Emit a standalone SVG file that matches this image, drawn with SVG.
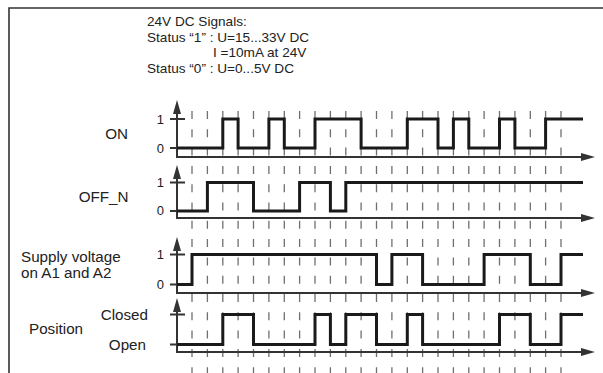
<svg xmlns="http://www.w3.org/2000/svg" width="603" height="373" viewBox="0 0 603 373">
  <defs>
    <style>
      .txt { font-family: "Liberation Sans", Arial, sans-serif; fill: #222; }
      .top { font-size: 13.6px; }
      .lbl { font-size: 15.2px; }
      .dig { font-size: 13px; text-anchor: end; }
      .grid { stroke: #6f6f6f; stroke-width: 1.3; stroke-dasharray: 8 10.3; fill: none; }
      .axis { stroke: #333; stroke-width: 2; fill: none; }
      .wave { stroke: #1a1a1a; stroke-width: 3; fill: none; stroke-linejoin: miter; }
    </style>
    <marker id="arr" markerUnits="userSpaceOnUse" markerWidth="14" markerHeight="8" refX="1" refY="4" orient="auto">
      <path d="M0,0 L14,4 L0,8 Z" fill="#333"/>
    </marker>
  </defs>
  <rect width="603" height="373" fill="#fff"/>
  <path d="M9,373 V8 H603" fill="none" stroke="#333" stroke-width="1.6"/>

  <g id="title" class="txt top">
    <text x="147" y="26">24V DC Signals:</text>
    <text x="147" y="41.6">Status “1” : U=15...33V DC</text>
    <text x="213" y="57.2">I =10mA at 24V</text>
    <text x="147" y="72.8">Status “0” : U=0...5V DC</text>
  </g>

  <g id="grid" class="grid">
    <path d="M192,111V373 M207.4,111V373 M222.8,111V373 M238.1,111V373 M253.5,111V373 M268.9,111V373 M284.3,111V373 M299.6,111V373 M315,111V373 M330.4,111V373 M345.8,111V373 M361.1,111V373 M376.5,111V373 M391.9,111V373 M407.3,111V373 M422.6,111V373 M438,111V373 M453.4,111V373 M468.8,111V373 M484.1,111V373 M499.5,111V373 M514.9,111V373 M530.3,111V373 M545.6,111V373 M561,111V373"/>
  </g>

  <g id="connectors">
    <g id="axes" class="axis">
      <path d="M177,157 V113" marker-end="url(#arr)"/>
      <path d="M176,157 H582" marker-end="url(#arr)"/>
      <path d="M170,119 H185 M170,148 H177"/>
      <path d="M177,218 V178" marker-end="url(#arr)"/>
      <path d="M176,218 H582" marker-end="url(#arr)"/>
      <path d="M170,182.5 H185 M170,211 H177"/>
      <path d="M177,293 V250" marker-end="url(#arr)"/>
      <path d="M176,293 H582" marker-end="url(#arr)"/>
      <path d="M170,254.5 H185 M170,284.5 H177"/>
      <path d="M177,352 V311" marker-end="url(#arr)"/>
      <path d="M176,352 H582" marker-end="url(#arr)"/>
      <path d="M170,314.5 H185 M170,344.5 H177"/>
    </g>
  </g>

  <g id="signal-on">
    <text class="txt lbl" x="128" y="139.3" text-anchor="end">ON</text>
    <text class="txt dig" x="164" y="124">1</text>
    <text class="txt dig" x="164" y="152.5">0</text>
    <path class="wave" d="M177,148 H222.8 V119 H238.1 V148 H268.9 V119 H284.3 V148 H315 V119 H361.1 V148 H407.3 V119 H438 V148 H453.4 V119 H468.8 V148 H499.5 V119 H514.9 V148 H545.6 V119 H583"/>
  </g>

  <g id="signal-off-n">
    <text class="txt lbl" x="128.5" y="201.7" text-anchor="end">OFF_N</text>
    <text class="txt dig" x="164" y="187.3">1</text>
    <text class="txt dig" x="164" y="215.3">0</text>
    <path class="wave" d="M177,211 H207.4 V182.5 H253.5 V211 H299.6 V182.5 H330.4 V211 H345.8 V182.5 H583"/>
  </g>

  <g id="signal-supply">
    <text class="txt lbl" x="21" y="261.7">Supply voltage</text>
    <text class="txt lbl" x="21" y="278.3">on A1 and A2</text>
    <text class="txt dig" x="164" y="259">1</text>
    <text class="txt dig" x="164" y="288.5">0</text>
    <path class="wave" d="M177,284.5 H192 V254.5 H376.5 V284.5 H391.9 V254.5 H422.6 V284.5 H484.1 V254.5 H530.3 V284.5 H561 V254.5 H583"/>
  </g>

  <g id="signal-position">
    <text class="txt lbl" x="148" y="320" text-anchor="end">Closed</text>
    <text class="txt lbl" x="29" y="334">Position</text>
    <text class="txt lbl" x="146" y="350" text-anchor="end">Open</text>
    <path class="wave" d="M177,344.5 H222.8 V314.5 H253.5 V344.5 H315 V314.5 H330.4 V344.5 H345.8 V314.5 H376.5 V344.5 H407.3 V314.5 H422.6 V344.5 H499.5 V314.5 H530.3 V344.5 H561 V314.5 H583"/>
  </g>
</svg>
